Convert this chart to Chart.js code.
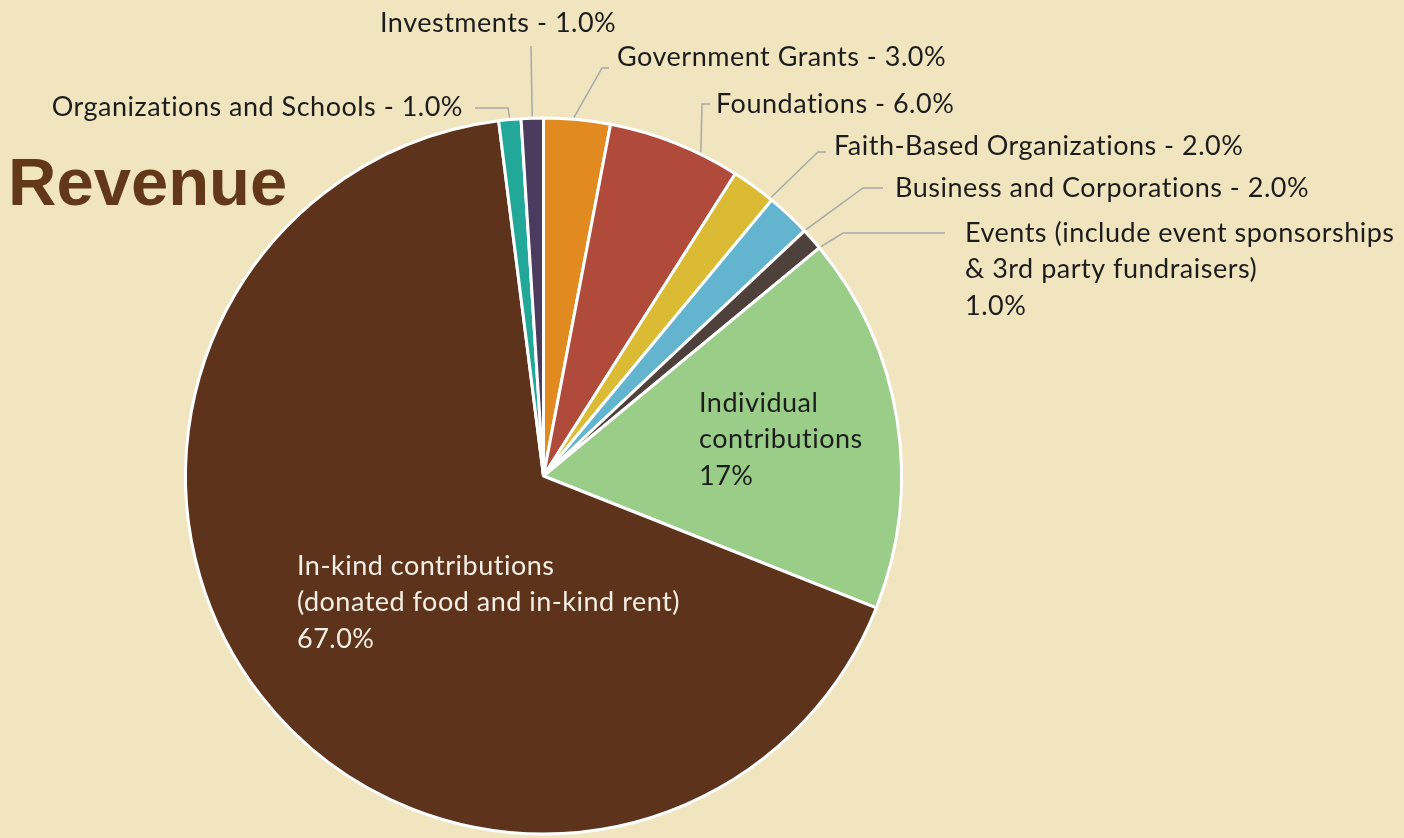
<!DOCTYPE html>
<html>
<head>
<meta charset="utf-8">
<script src="https://cdn.jsdelivr.net/npm/chart.js@4.4.0/dist/chart.umd.min.js"></script>
<style>
    html, body { margin: 0; padding: 0; background: #f1e5c0; }
    #wrap { width: 1404px; height: 838px; position: relative; }
</style>
</head>
<body>
<div id="wrap"><canvas id="myChart" width="1404" height="838"></canvas></div>
<script>
// data, clockwise from 12 o'clock
var categories = [
    "Government Grants",
    "Foundations",
    "Faith-Based Organizations",
    "Business and Corporations",
    "Events (include event sponsorships & 3rd party fundraisers)",
    "Individual contributions",
    "In-kind contributions (donated food and in-kind rent)",
    "Organizations and Schools",
    "Investments"
];
var values = [3, 6, 2, 2, 1, 17, 67, 1, 1];
var percentText = ["3.0%", "6.0%", "2.0%", "2.0%", "1.0%", "17%", "67.0%", "1.0%", "1.0%"];

var sliceColors = [
    "#e08a1f",
    "#b04a3b",
    "#dcbb34",
    "#62b4cf",
    "#4e403a",
    "#9acd88",
    "#5d341b",
    "#21a898",
    "#4a3b5f"
];

// how each label is broken into lines (null = "name - pct" on one line)
var labelLines = [
    null,
    null,
    null,
    null,
    ["Events (include event sponsorships", "& 3rd party fundraisers)"],
    ["Individual", "contributions"],
    ["In-kind contributions", "(donated food and in-kind rent)"],
    null,
    null
];

// label placement (layout only)
var labelLayout = [
    { x: 617, y: 57, align: "left", lead: [[609, 68], [602, 68]], frac: 0.45 },
    { x: 716, y: 104, align: "left", lead: [[710, 104], [702, 104]], frac: 0.7 },
    { x: 834, y: 146, align: "left", lead: [[826, 152], [818, 152]], frac: 0.95 },
    { x: 895, y: 188, align: "left", lead: [[883, 188], [863, 188]], frac: 1.0 },
    { x: 965, y: 233, align: "left", lead: [[945, 233], [843, 233]], frac: 1.0 },
    { x: 699, y: 403, align: "left", lead: null },
    { x: 297, y: 566, align: "left", lead: null, color: "#f4efe6" },
    { x: 463, y: 107, align: "right", lead: [[475, 108], [508, 108]], frac: 0.5 },
    { x: 380, y: 23, align: "left", lead: [[531, 46]], frac: 0.5 }
];

var labelFont = "27px Lato, 'Open Sans', sans-serif";
var lineGap = 36.5;

var labelsPlugin = {
    id: 'pieLabels',
    beforeDraw: function (chart) {
        var ctx = chart.ctx;
        ctx.save();
        ctx.fillStyle = "#f1e5c0";
        ctx.fillRect(0, 0, chart.width, chart.height);
        ctx.restore();
    },
    afterDraw: function (chart) {
        var ctx = chart.ctx;
        var meta = chart.getDatasetMeta(0);
        ctx.save();

        // title
        ctx.font = "bold 67px 'Liberation Sans', Arial, sans-serif";
        ctx.fillStyle = "#63371a";
        ctx.textAlign = "left";
        ctx.textBaseline = "alphabetic";
        ctx.fillText("Revenue", 8, 205);

        // leader lines
        ctx.strokeStyle = "#a8a8a8";
        ctx.lineWidth = 1.5;
        meta.data.forEach(function (arc, i) {
            var lay = labelLayout[i];
            if (!lay.lead) return;
            var p = arc.getProps(['x', 'y', 'startAngle', 'endAngle', 'outerRadius'], true);
            var a = p.startAngle + (p.endAngle - p.startAngle) * lay.frac;
            var r = p.outerRadius + 2;
            ctx.beginPath();
            ctx.moveTo(lay.lead[0][0], lay.lead[0][1]);
            for (var k = 1; k < lay.lead.length; k++) {
                ctx.lineTo(lay.lead[k][0], lay.lead[k][1]);
            }
            ctx.lineTo(p.x + Math.cos(a) * r, p.y + Math.sin(a) * r);
            ctx.stroke();
        });

        // label text
        ctx.font = labelFont;
        ctx.letterSpacing = "0.5px";
        ctx.textBaseline = "middle";
        categories.forEach(function (name, i) {
            var lay = labelLayout[i];
            var lines = labelLines[i] ? labelLines[i].concat([percentText[i]]) : [name + " - " + percentText[i]];
            ctx.fillStyle = lay.color || "#1c1c1c";
            ctx.textAlign = lay.align;
            lines.forEach(function (t, j) {
                ctx.fillText(t, lay.x, lay.y + j * lineGap);
            });
        });

        ctx.restore();
    }
};

new Chart("myChart", {
    type: "pie",
    data: {
        labels: categories,
        datasets: [{
            data: values,
            backgroundColor: sliceColors,
            borderColor: "#ffffff",
            borderWidth: 3
        }]
    },
    options: {
        responsive: false,
        animation: false,
        rotation: 0,
        layout: {
            padding: { left: 184, right: 501, top: 116, bottom: 2 }
        },
        plugins: {
            legend: { display: false },
            tooltip: { enabled: false },
            title: { display: false }
        }
    },
    plugins: [labelsPlugin]
});
</script>
</body>
</html>
